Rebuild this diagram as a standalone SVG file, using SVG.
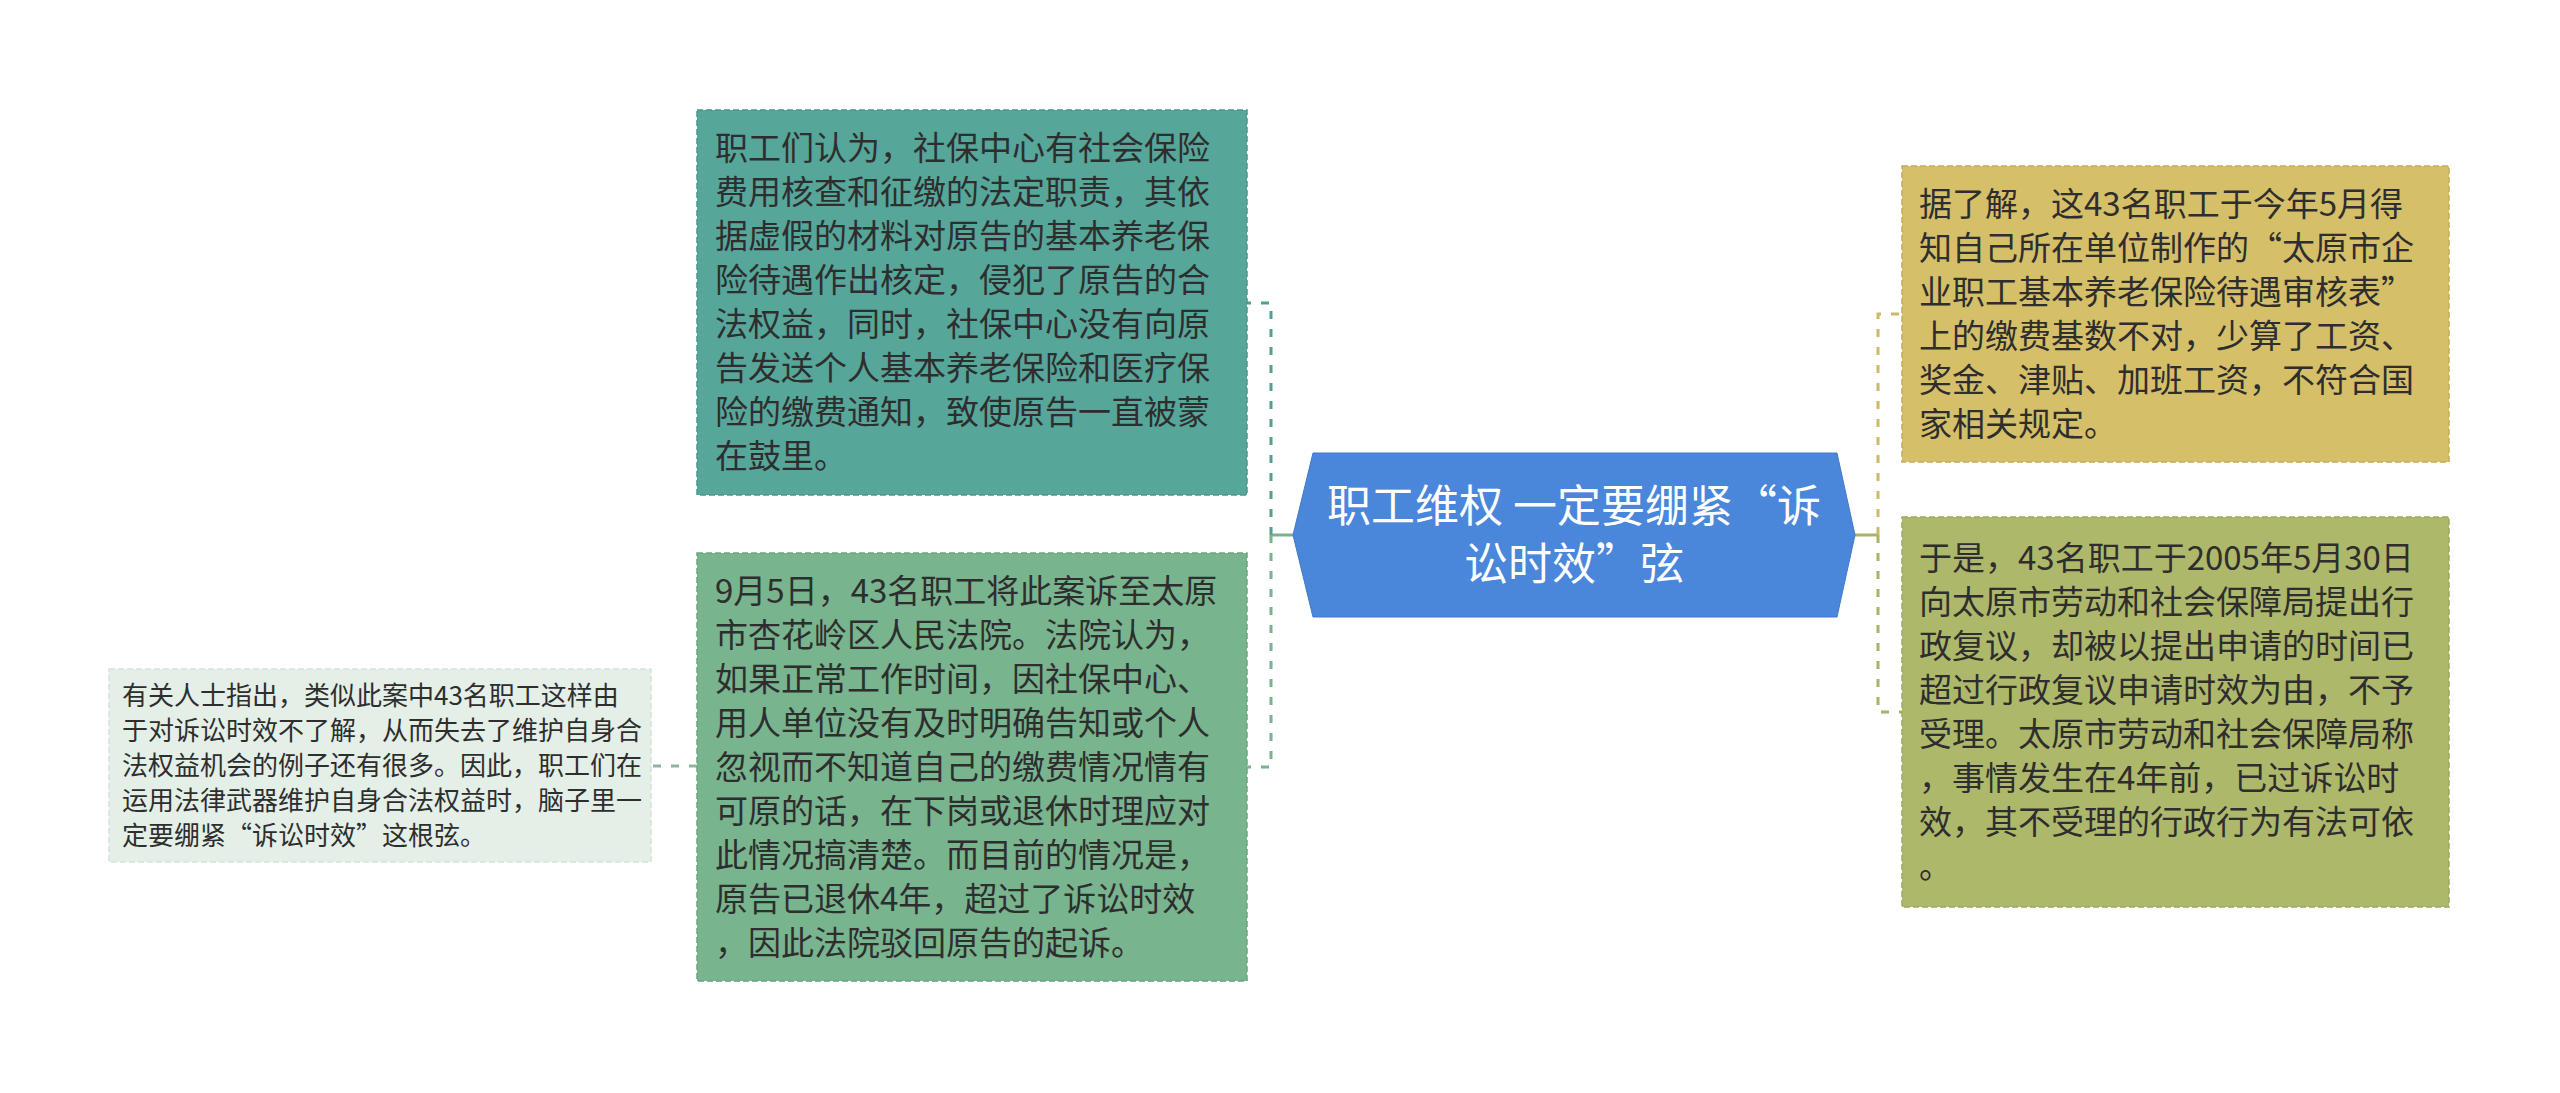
<svg xmlns="http://www.w3.org/2000/svg" width="2560" height="1093" viewBox="0 0 2560 1093">
<style>
.t{font-family:"Noto Sans CJK SC","Microsoft YaHei","Liberation Sans",sans-serif;fill:#2e2e2e}
.t33{font-size:33px}
.t26{font-size:26px}
.tc{font-size:44px;fill:#ffffff;text-anchor:middle}
.box{stroke-width:1.5;stroke-dasharray:6 3}
.dash{fill:none;stroke-width:3;stroke-dasharray:8 10}
.solid{fill:none;stroke-width:3}
</style>
<rect width="2560" height="1093" fill="#ffffff"/>
<g id="connectors">
  <line class="solid" x1="1293" y1="535" x2="1271" y2="535" stroke="#77b38c"/>
  <path class="dash" d="M1271,535 V303 H1247" stroke="#4f9f93"/>
  <path class="dash" d="M1271,535 V767 H1247" stroke="#77b38c"/>
  <line class="solid" x1="1855" y1="535" x2="1878" y2="535" stroke="#a9b266"/>
  <path class="dash" d="M1878,535 V314 H1902" stroke="#cdb866"/>
  <path class="dash" d="M1878,535 V712 H1902" stroke="#a9b266"/>
  <path class="dash" d="M697,766 H651" stroke="#8fb59c" stroke-width="2"/>
</g>
<g id="center">
  <polygon points="1313,453 1837,453 1855,535 1837,617 1313,617 1293,535" fill="#4a86da" stroke="#4279c8" stroke-width="1"/>
  <text class="t tc" x="1574" y="522">职工维权 一定要绷紧“诉</text>
  <text class="t tc" x="1574" y="580">讼时效”弦</text>
</g>
<g id="node-teal">
  <rect class="box" x="697" y="110" width="550" height="385" fill="#56a69a" stroke="#4a968a"/>
  <text class="t t33" x="715" y="160">职工们认为，社保中心有社会保险</text>
  <text class="t t33" x="715" y="204">费用核查和征缴的法定职责，其依</text>
  <text class="t t33" x="715" y="248">据虚假的材料对原告的基本养老保</text>
  <text class="t t33" x="715" y="292">险待遇作出核定，侵犯了原告的合</text>
  <text class="t t33" x="715" y="336">法权益，同时，社保中心没有向原</text>
  <text class="t t33" x="715" y="380">告发送个人基本养老保险和医疗保</text>
  <text class="t t33" x="715" y="424">险的缴费通知，致使原告一直被蒙</text>
  <text class="t t33" x="715" y="468">在鼓里。</text>
</g>
<g id="node-green">
  <rect class="box" x="697" y="553" width="550" height="428" fill="#78b48e" stroke="#69a47e"/>
  <text class="t t33" x="715" y="603">9月5日，43名职工将此案诉至太原</text>
  <text class="t t33" x="715" y="647">市杏花岭区人民法院。法院认为，</text>
  <text class="t t33" x="715" y="691">如果正常工作时间，因社保中心、</text>
  <text class="t t33" x="715" y="735">用人单位没有及时明确告知或个人</text>
  <text class="t t33" x="715" y="779">忽视而不知道自己的缴费情况情有</text>
  <text class="t t33" x="715" y="823">可原的话，在下岗或退休时理应对</text>
  <text class="t t33" x="715" y="867">此情况搞清楚。而目前的情况是，</text>
  <text class="t t33" x="715" y="911">原告已退休4年，超过了诉讼时效</text>
  <text class="t t33" x="715" y="955">，因此法院驳回原告的起诉。</text>
</g>
<g id="node-light">
  <rect class="box" x="109" y="669" width="542" height="193" fill="#e4efe8" stroke="#d3e4d9"/>
  <text class="t t26" x="122" y="705">有关人士指出，类似此案中43名职工这样由</text>
  <text class="t t26" x="122" y="740">于对诉讼时效不了解，从而失去了维护自身合</text>
  <text class="t t26" x="122" y="775">法权益机会的例子还有很多。因此，职工们在</text>
  <text class="t t26" x="122" y="810">运用法律武器维护自身合法权益时，脑子里一</text>
  <text class="t t26" x="122" y="845">定要绷紧“诉讼时效”这根弦。</text>
</g>
<g id="node-gold">
  <rect class="box" x="1902" y="166" width="547" height="296" fill="#d5bf68" stroke="#c4ad57"/>
  <text class="t t33" x="1919" y="216">据了解，这43名职工于今年5月得</text>
  <text class="t t33" x="1919" y="260">知自己所在单位制作的“太原市企</text>
  <text class="t t33" x="1919" y="304">业职工基本养老保险待遇审核表”</text>
  <text class="t t33" x="1919" y="348">上的缴费基数不对，少算了工资、</text>
  <text class="t t33" x="1919" y="392">奖金、津贴、加班工资，不符合国</text>
  <text class="t t33" x="1919" y="436">家相关规定。</text>
</g>
<g id="node-olive">
  <rect class="box" x="1902" y="517" width="547" height="390" fill="#aeb86b" stroke="#9ea95c"/>
  <text class="t t33" x="1919" y="570">于是，43名职工于2005年5月30日</text>
  <text class="t t33" x="1919" y="614">向太原市劳动和社会保障局提出行</text>
  <text class="t t33" x="1919" y="658">政复议，却被以提出申请的时间已</text>
  <text class="t t33" x="1919" y="702">超过行政复议申请时效为由，不予</text>
  <text class="t t33" x="1919" y="746">受理。太原市劳动和社会保障局称</text>
  <text class="t t33" x="1919" y="790">，事情发生在4年前，已过诉讼时</text>
  <text class="t t33" x="1919" y="834">效，其不受理的行政行为有法可依</text>
  <text class="t t33" x="1919" y="878">。</text>
</g>
</svg>
